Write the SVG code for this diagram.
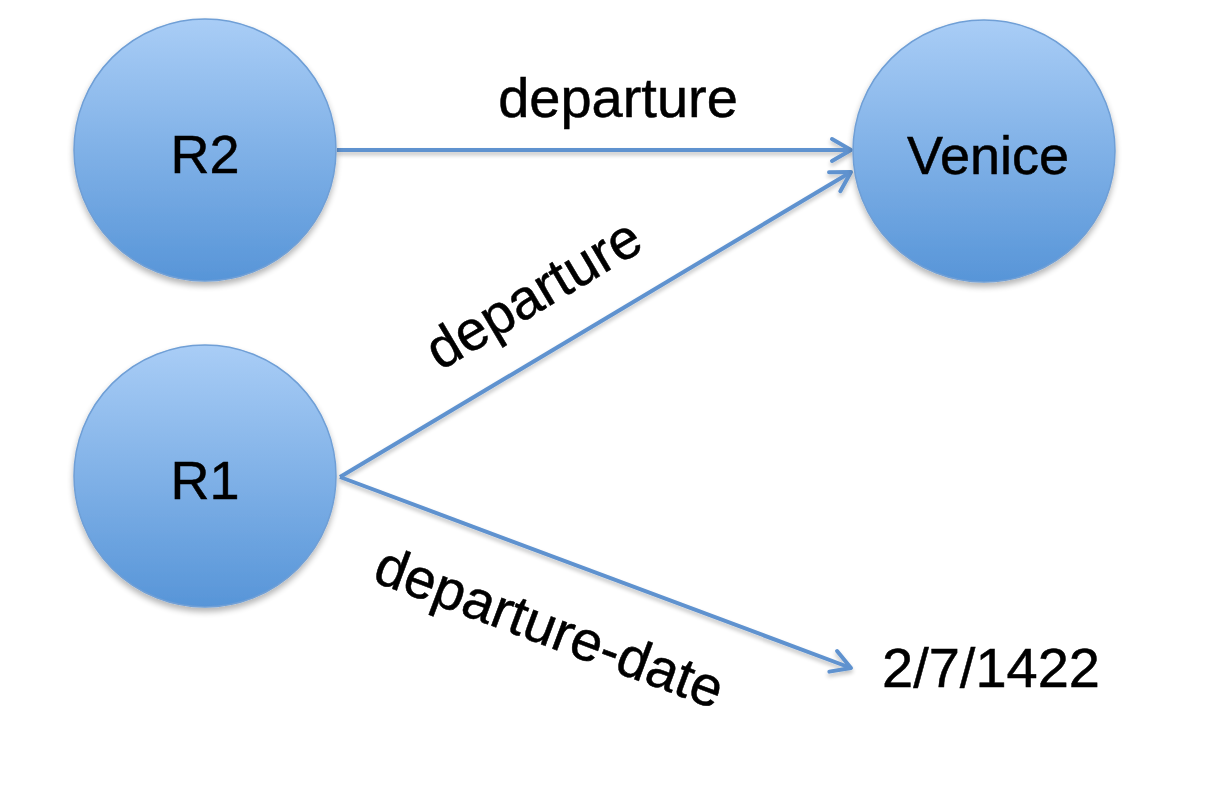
<svg xmlns="http://www.w3.org/2000/svg" width="1210" height="800" viewBox="0 0 1210 800">
<defs>
<linearGradient id="g" x1="0" y1="0" x2="0" y2="1">
<stop offset="0" stop-color="#a9cdf6"/>
<stop offset="1" stop-color="#5795d8"/>
</linearGradient>
<filter id="sh" x="-20%" y="-20%" width="140%" height="150%">
<feGaussianBlur in="SourceAlpha" stdDeviation="3"/>
<feOffset dx="0" dy="4" result="b"/>
<feComponentTransfer><feFuncA type="linear" slope="0.3"/></feComponentTransfer>
<feMerge><feMergeNode/><feMergeNode in="SourceGraphic"/></feMerge>
</filter>
<filter id="esh" filterUnits="userSpaceOnUse" x="0" y="0" width="1210" height="800">
<feGaussianBlur in="SourceAlpha" stdDeviation="2"/>
<feOffset dx="0" dy="3" result="b"/>
<feComponentTransfer><feFuncA type="linear" slope="0.25"/></feComponentTransfer>
<feMerge><feMergeNode/><feMergeNode in="SourceGraphic"/></feMerge>
</filter>
<marker id="arr" markerUnits="userSpaceOnUse" markerWidth="34" markerHeight="34" viewBox="-24 -17 34 34" refX="0" refY="0" orient="auto">
<path d="M-19,-11 L0,0 L-19,11" fill="none" stroke="#5f92cf" stroke-width="4" stroke-linecap="round" stroke-linejoin="round"/>
</marker>
</defs>
<style>
.node{fill:url(#g);stroke:#6f9fd6;stroke-width:1.5;filter:url(#sh)}
.lbl{font-family:"Liberation Sans",Arial,sans-serif;font-size:54px;fill:#000;stroke:#000;stroke-width:0.5;text-anchor:middle}
.elbl{font-family:"Liberation Sans",Arial,sans-serif;font-size:56px;fill:#000;stroke:#000;stroke-width:0.5;text-anchor:middle}
.edge{stroke:#5f92cf;stroke-width:4;fill:none;marker-end:url(#arr)}
</style>
<rect width="1210" height="800" fill="#fff"/>
<g id="connectors" filter="url(#esh)">
<line class="edge" x1="337" y1="150" x2="851" y2="150"/>
<line class="edge" x1="340" y1="477" x2="851" y2="172"/>
<line class="edge" x1="340" y1="477" x2="851" y2="668"/>
</g>
<g id="edge-labels">
<text class="elbl" x="618" y="117">departure</text>
<text class="elbl" transform="translate(543,310) rotate(-30.8)" x="0" y="0">departure</text>
<text class="elbl" transform="translate(543,645) rotate(20.5)" x="0" y="0">departure-date</text>
</g>
<g id="R2">
<circle class="node" cx="205" cy="150" r="131"/>
<text class="lbl" x="205" y="173">R2</text>
</g>
<g id="R1">
<circle class="node" cx="205" cy="476" r="131"/>
<text class="lbl" x="205" y="499">R1</text>
</g>
<g id="Venice">
<circle class="node" cx="984" cy="151" r="131"/>
<text class="lbl" x="988" y="174">Venice</text>
</g>
<g id="date">
<text class="elbl" style="text-anchor:start" x="882" y="687">2/7/1422</text>
</g>
</svg>
